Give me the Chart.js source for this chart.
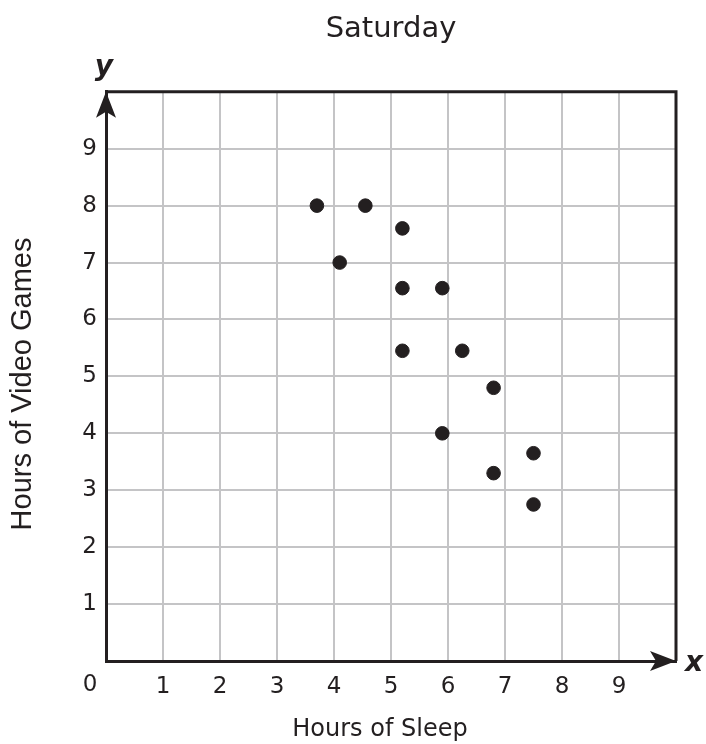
<!DOCTYPE html>
<html>
<head>
<meta charset="utf-8">
<title>Saturday</title>
<script src="https://cdn.jsdelivr.net/npm/chart.js@4.4.1/dist/chart.umd.min.js"></script>
<style>
  html, body { margin: 0; padding: 0; background: #ffffff; }
  canvas { display: block; }
</style>
</head>
<body>
<canvas id="chart" width="706" height="744"></canvas>
<script>
// Values
const sleepHours = [3.7, 4.55, 5.2, 4.1, 5.2, 5.9, 5.2, 6.25, 6.8, 5.9, 7.5, 6.8, 7.5];
const gameHours  = [8.0, 8.0, 7.6, 7.0, 6.55, 6.55, 5.45, 5.45, 4.8, 4.0, 3.65, 3.3, 2.75];
const tickValues = [1, 2, 3, 4, 5, 6, 7, 8, 9];
const xTitle = 'Hours of Sleep';
const yTitle = 'Hours of Video Games';

const ink = '#231f20';
const gridGray = '#c4c4c6';

// Draws the closed box, arrow heads, axis titles and the x / y / 0 labels
const axisDecor = {
  id: 'axisDecor',
  beforeDatasetsDraw(chart) {
    const { ctx, chartArea: a } = chart;
    ctx.save();
    ctx.strokeStyle = ink;
    ctx.lineWidth = 3;
    ctx.beginPath();
    ctx.moveTo(a.left, a.top);
    ctx.lineTo(a.right, a.top);
    ctx.lineTo(a.right, a.bottom);
    ctx.stroke();

    ctx.fillStyle = ink;
    // y arrow
    ctx.beginPath();
    ctx.moveTo(a.left, a.top);
    ctx.lineTo(a.left + 10, a.top + 26);
    ctx.lineTo(a.left, a.top + 20);
    ctx.lineTo(a.left - 10, a.top + 26);
    ctx.closePath();
    ctx.fill();
    // x arrow
    ctx.beginPath();
    ctx.moveTo(a.right, a.bottom);
    ctx.lineTo(a.right - 26, a.bottom - 10);
    ctx.lineTo(a.right - 20, a.bottom);
    ctx.lineTo(a.right - 26, a.bottom + 10);
    ctx.closePath();
    ctx.fill();

    ctx.textAlign = 'center';
    ctx.textBaseline = 'middle';
    ctx.font = 'italic bold 28px "DejaVu Sans"';
    ctx.fillText('y', a.left - 2, a.top - 24);
    ctx.fillText('x', a.right + 18, a.bottom + 3);
    ctx.font = '23px "DejaVu Sans"';
    ctx.fillText('0', a.left - 16, a.bottom + 24);

    // axis titles
    ctx.font = '24px "DejaVu Sans"';
    ctx.fillText(xTitle, 380, 730);
    ctx.translate(23, 384);
    ctx.rotate(-Math.PI / 2);
    ctx.font = '29px "Liberation Sans"';
    ctx.fillText(yTitle, 0, 0);
    ctx.restore();
  }
};

const ctx = document.getElementById('chart').getContext('2d');
new Chart(ctx, {
  type: 'scatter',
  data: {
    datasets: [{
      label: 'Saturday',
      data: sleepHours.map((x, i) => ({ x: x, y: gameHours[i] })),
      backgroundColor: ink,
      borderColor: ink,
      pointRadius: 6.8,
      pointHoverRadius: 6.8
    }]
  },
  options: {
    responsive: false,
    animation: false,
    devicePixelRatio: 1,
    layout: { padding: { right: 30, left: 0, top: 0, bottom: 0 } },
    plugins: {
      legend: { display: false },
      tooltip: { enabled: false },
      title: {
        display: true,
        text: 'Saturday',
        fullSize: false,
        color: ink,
        font: { family: 'DejaVu Sans', size: 29, weight: 'normal' },
        padding: { top: 12, bottom: 45 }
      }
    },
    scales: {
      x: {
        type: 'linear',
        min: 0,
        max: 10,
        afterFit: (scale) => { scale.height = 83; },
        afterBuildTicks: (scale) => { scale.ticks = [0].concat(tickValues, [10]).map(v => ({ value: v })); },
        grid: { color: gridGray, lineWidth: 2, drawTicks: false },
        border: { color: ink, width: 3 },
        ticks: {
          color: ink,
          padding: 12,
          maxRotation: 0,
          font: { family: 'DejaVu Sans', size: 23 },
          callback: (v) => tickValues.includes(v) ? String(v) : ''
        }
      },
      y: {
        type: 'linear',
        min: 0,
        max: 10,
        afterFit: (scale) => { scale.width = 106; },
        afterBuildTicks: (scale) => { scale.ticks = [0].concat(tickValues, [10]).map(v => ({ value: v })); },
        grid: { color: gridGray, lineWidth: 2, drawTicks: false },
        border: { color: ink, width: 3 },
        ticks: {
          color: ink,
          padding: 9,
          font: { family: 'DejaVu Sans', size: 23 },
          callback: (v) => tickValues.includes(v) ? String(v) : ''
        }
      }
    }
  },
  plugins: [axisDecor]
});
</script>
</body>
</html>
